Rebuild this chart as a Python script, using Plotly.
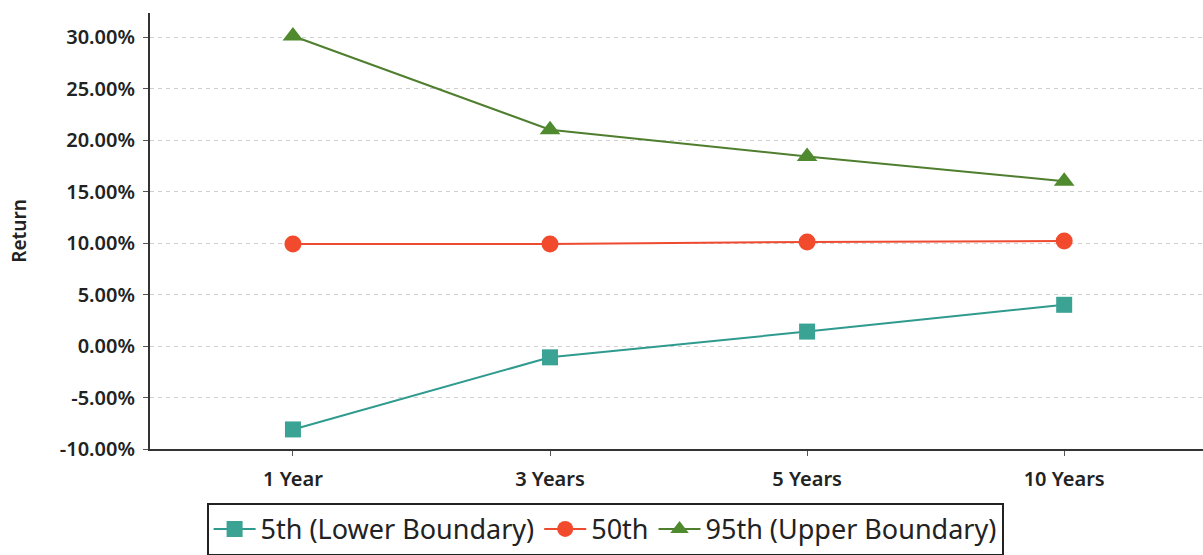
import plotly.graph_objects as go

categories = ["1 Year", "3 Years", "5 Years", "10 Years"]
lower_5th = [-8.1, -1.1, 1.4, 4.0]
median_50th = [9.9, 9.9, 10.1, 10.2]
upper_95th = [30.1, 21.0, 18.4, 16.0]

series_names = ["5th (Lower Boundary)", "50th", "95th (Upper Boundary)"]
ytick_vals = [-10, -5, 0, 5, 10, 15, 20, 25, 30]
ytick_text = ["-10.00%", "-5.00%", "0.00%", "5.00%", "10.00%", "15.00%", "20.00%", "25.00%", "30.00%"]

FONT = "Noto Sans"

fig = go.Figure()
fig.add_trace(go.Scatter(
    x=categories, y=lower_5th, name=series_names[0], mode="lines+markers",
    line=dict(color="#2f9a8e", width=2),
    marker=dict(symbol="square", size=16, color="#3aa394"),
))
fig.add_trace(go.Scatter(
    x=categories, y=median_50th, name=series_names[1], mode="lines+markers",
    line=dict(color="#ee4a30", width=2),
    marker=dict(symbol="circle", size=17, color="#f24a2c"),
))
fig.add_trace(go.Scatter(
    x=categories, y=upper_95th, name=series_names[2], mode="lines+markers",
    line=dict(color="#4e7e2e", width=2),
    marker=dict(symbol="triangle-up", size=18, color="#4f8a2e"),
))

fig.update_layout(
    width=1203, height=555,
    margin=dict(l=150, r=0, t=13, b=106),
    paper_bgcolor="white", plot_bgcolor="white",
    font=dict(family=FONT, color="#222222"),
    showlegend=True,
    legend=dict(
        orientation="h",
        xref="container", yref="container",
        x=0.503, xanchor="center", y=0.094, yanchor="top",
        bordercolor="#222222", borderwidth=2, bgcolor="white",
        font=dict(family=FONT, size=27, color="#222222"),
        itemwidth=42, tracegroupgap=0,
    ),
    xaxis=dict(
        type="category",
        range=[-0.556, 3.54],
        showline=True, linecolor="#333333", linewidth=2,
        ticks="outside", ticklen=5, tickcolor="#555555",
        showgrid=False,
        ticklabelstandoff=6,
        tickfont=dict(family=FONT, size=20, color="#222222", weight=600),
    ),
    yaxis=dict(
        range=[-10, 32.33],
        tickvals=ytick_vals, ticktext=ytick_text,
        showline=True, linecolor="#333333", linewidth=2,
        ticks="outside", ticklen=5, tickcolor="#555555",
        showgrid=True, gridcolor="#cfcfcf", gridwidth=1, griddash="4px,4px",
        zeroline=False,
        ticklabelstandoff=4,
        tickfont=dict(family=FONT, size=20, color="#222222", weight=600),
        title=dict(text="Return", font=dict(family=FONT, size=19, color="#222222", weight=600), standoff=28),
    ),
)

fig.write_html("out.html")
